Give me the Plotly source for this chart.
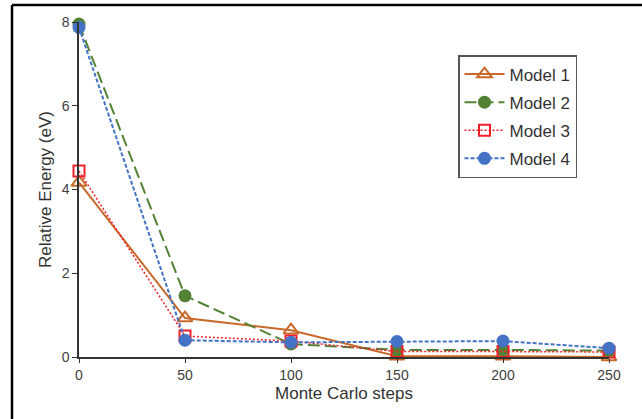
import plotly.graph_objects as go

steps = [0, 50, 100, 150, 200, 250]
model1 = [4.17, 0.93, 0.64, 0.02, 0.02, 0.0]
model2 = [7.95, 1.46, 0.31, 0.17, 0.17, 0.15]
model3 = [4.44, 0.50, 0.38, 0.13, 0.13, 0.12]
model4 = [7.87, 0.40, 0.35, 0.37, 0.38, 0.21]
names = ["Model 1", "Model 2", "Model 3", "Model 4"]
y_ticks = [0, 2, 4, 6, 8]
x_ticks = [0, 50, 100, 150, 200, 250]

W, H = 642, 419
L, R, T, B = 79, 609, 22, 357

fig = go.Figure()
fig.add_trace(go.Scatter(x=steps, y=model1, name=names[0], mode="lines+markers",
    line=dict(color="#C8692A", width=2),
    marker=dict(symbol="triangle-up-open", size=13, color="#C8692A", line=dict(width=2)),
    cliponaxis=False, legendgroup="1"))
fig.add_trace(go.Scatter(x=steps, y=model2, name=names[1], mode="lines+markers",
    line=dict(color="#548235", width=2, dash="12px,5px"),
    marker=dict(symbol="circle", size=13, color="#548235"),
    cliponaxis=False, legendgroup="2"))
fig.add_trace(go.Scatter(x=steps, y=model3, name=names[2], mode="lines+markers",
    line=dict(color="#F0202A", width=1.5, dash="2px,2px"),
    marker=dict(symbol="square-open", size=11, color="#F0202A", line=dict(width=2)),
    cliponaxis=False, legendgroup="3"))
fig.add_trace(go.Scatter(x=steps, y=model4, name=names[3], mode="lines+markers",
    line=dict(color="#4472C4", width=2, dash="4px,2px"),
    marker=dict(symbol="circle", size=13, color="#4472C4"),
    cliponaxis=False, legendgroup="4"))

def px(v):
    return (v - L) / (R - L)

def py(v):
    return (B - v) / (B - T)

fig.update_layout(
    width=W, height=H,
    margin=dict(l=L, r=W - R, t=T, b=H - B),
    paper_bgcolor="white", plot_bgcolor="white",
    font=dict(family="Liberation Sans, Arial, sans-serif", color="#404040", size=14),
    showlegend=True,
    legend=dict(x=px(458), y=py(55), xanchor="left", yanchor="top",
                bordercolor="#555555", borderwidth=1.5, bgcolor="white",
                font=dict(size=17, color="#333333"), tracegroupgap=3,
                itemwidth=40),
    xaxis=dict(range=[0, 250], tickvals=x_ticks, showgrid=False, zeroline=False,
               showline=True, linecolor="#333333", linewidth=1.5,
               ticks="outside", ticklen=4, tickcolor="#333333",
               tickfont=dict(size=14, color="#404040"),
               title=dict(text="Monte Carlo steps", font=dict(size=17, color="#333333"), standoff=6)),
    yaxis=dict(range=[0, 8], tickvals=y_ticks, showgrid=False, zeroline=False,
               showline=True, linecolor="#333333", linewidth=1.5,
               ticks="outside", ticklen=5, tickcolor="#333333",
               tickfont=dict(size=14, color="#404040"),
               title=dict(text="Relative Energy (eV)", font=dict(size=17, color="#333333"), standoff=6)),
    shapes=[
        dict(type="line", xref="paper", yref="paper", x0=px(12), x1=px(642), y0=py(5), y1=py(5),
             line=dict(color="black", width=2.5)),
        dict(type="line", xref="paper", yref="paper", x0=px(12), x1=px(12), y0=py(5), y1=py(419),
             line=dict(color="black", width=2.5)),
    ],
)

fig.write_html("out.html")
